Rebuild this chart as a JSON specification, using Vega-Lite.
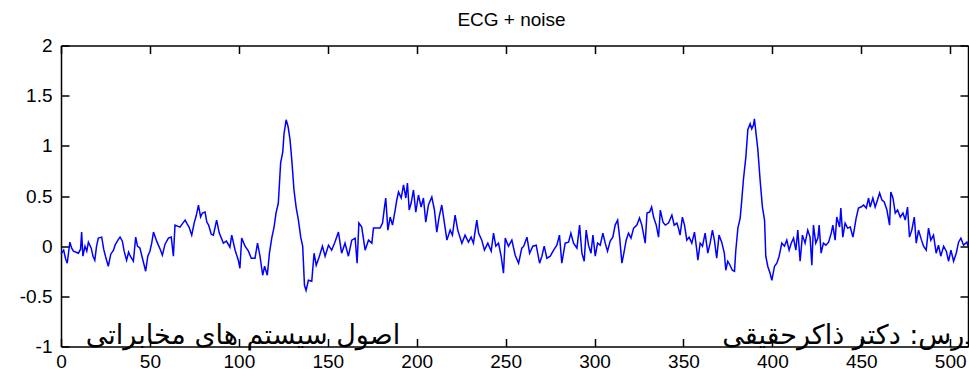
{
  "$schema": "https://vega.github.io/schema/vega-lite/v6.json",
  "autosize": {"type": "none"},
  "padding": {"left": 61, "top": 45.5, "right": 1, "bottom": 24.5},
  "width": 907,
  "height": 301,
  "background": "white",
  "title": {"text": "ECG + noise", "font": "Liberation Sans", "fontSize": 19, "fontWeight": "normal", "color": "black", "anchor": "middle", "baseline": "alphabetic", "offset": -8, "dx": -3},
  "config": {
    "view": {"stroke": null},
    "axis": {"domainColor": "black", "domainWidth": 1.5, "tickColor": "black", "tickWidth": 1.5, "tickSize": -8, "grid": false, "title": null, "labelColor": "black", "labelFont": "Liberation Sans", "labelFontSize": 19}
  },
  "datasets": {
    "ecg": [
      {"n": 0, "v": -0.08}, {"n": 1.5, "v": -0.04}, {"n": 2.5, "v": -0.12}, {"n": 3.5, "v": -0.17}, {"n": 5, "v": 0.04}, {"n": 6, "v": -0.02}, {"n": 7, "v": -0.05}, {"n": 8.5, "v": -0.06}, {"n": 9.8, "v": -0.07}, {"n": 11, "v": -0.03}, {"n": 11.6, "v": 0.14}, {"n": 12.3, "v": -0.1}, {"n": 13.5, "v": 0.0}, {"n": 14.5, "v": -0.05}, {"n": 15.4, "v": 0.04}, {"n": 17, "v": -0.02}, {"n": 18, "v": -0.1}, {"n": 19, "v": -0.14}, {"n": 20, "v": 0.0}, {"n": 21, "v": 0.08}, {"n": 22.9, "v": 0.09}, {"n": 24, "v": -0.03}, {"n": 25, "v": -0.1}, {"n": 26.6, "v": -0.2}, {"n": 28, "v": -0.08}, {"n": 29.5, "v": -0.04}, {"n": 30.4, "v": 0.01}, {"n": 32, "v": 0.06}, {"n": 33.2, "v": 0.09}, {"n": 34.5, "v": 0.05}, {"n": 35.5, "v": -0.05}, {"n": 36.9, "v": -0.14}, {"n": 38, "v": -0.06}, {"n": 39, "v": -0.1}, {"n": 40.7, "v": -0.15}, {"n": 42, "v": 0.09}, {"n": 43, "v": 0.0}, {"n": 44.4, "v": -0.02}, {"n": 45.5, "v": -0.1}, {"n": 46.5, "v": -0.17}, {"n": 47.6, "v": -0.25}, {"n": 48.8, "v": -0.1}, {"n": 50, "v": -0.05}, {"n": 51, "v": 0.03}, {"n": 52, "v": 0.14}, {"n": 53.8, "v": 0.05}, {"n": 55, "v": 0.0}, {"n": 56, "v": -0.04}, {"n": 57, "v": -0.09}, {"n": 58.5, "v": 0.02}, {"n": 60.4, "v": 0.08}, {"n": 62, "v": 0.09}, {"n": 63.2, "v": -0.1}, {"n": 64.1, "v": 0.21}, {"n": 65.5, "v": 0.2}, {"n": 66.9, "v": 0.19}, {"n": 68.5, "v": 0.23}, {"n": 69.8, "v": 0.26}, {"n": 71, "v": 0.22}, {"n": 72, "v": 0.19}, {"n": 73.5, "v": 0.11}, {"n": 75, "v": 0.24}, {"n": 76, "v": 0.3}, {"n": 77.3, "v": 0.41}, {"n": 78.5, "v": 0.29}, {"n": 79.5, "v": 0.33}, {"n": 81, "v": 0.34}, {"n": 82, "v": 0.24}, {"n": 83, "v": 0.21}, {"n": 84.5, "v": 0.12}, {"n": 85.7, "v": 0.11}, {"n": 87.5, "v": 0.26}, {"n": 89, "v": 0.13}, {"n": 91.3, "v": 0.03}, {"n": 93, "v": 0.05}, {"n": 95, "v": -0.01}, {"n": 96, "v": 0.11}, {"n": 97.9, "v": -0.04}, {"n": 99.7, "v": -0.14}, {"n": 100.6, "v": -0.22}, {"n": 101.6, "v": 0.08}, {"n": 103.5, "v": 0.0}, {"n": 105.4, "v": -0.05}, {"n": 107, "v": -0.12}, {"n": 109.1, "v": -0.12}, {"n": 110.5, "v": 0.03}, {"n": 111.9, "v": -0.1}, {"n": 113.4, "v": -0.29}, {"n": 114.5, "v": -0.2}, {"n": 116, "v": -0.29}, {"n": 117.2, "v": -0.07}, {"n": 118.5, "v": 0.08}, {"n": 119.8, "v": 0.19}, {"n": 120.9, "v": 0.33}, {"n": 122.2, "v": 0.43}, {"n": 123.5, "v": 0.83}, {"n": 124.7, "v": 0.94}, {"n": 125.4, "v": 1.12}, {"n": 126.6, "v": 1.26}, {"n": 127.7, "v": 1.19}, {"n": 128.8, "v": 1.06}, {"n": 129.9, "v": 0.83}, {"n": 131, "v": 0.56}, {"n": 132.2, "v": 0.39}, {"n": 133.5, "v": 0.26}, {"n": 134.8, "v": 0.09}, {"n": 135.9, "v": 0.0}, {"n": 136.9, "v": -0.39}, {"n": 137.8, "v": -0.44}, {"n": 139.1, "v": -0.34}, {"n": 141, "v": -0.35}, {"n": 142.3, "v": -0.07}, {"n": 143.5, "v": -0.19}, {"n": 145.3, "v": -0.1}, {"n": 147, "v": 0.0}, {"n": 148.5, "v": -0.1}, {"n": 150.4, "v": 0.01}, {"n": 152.2, "v": -0.04}, {"n": 154, "v": 0.04}, {"n": 156, "v": 0.14}, {"n": 157.8, "v": -0.07}, {"n": 159.7, "v": 0.03}, {"n": 161.6, "v": -0.1}, {"n": 163.5, "v": 0.06}, {"n": 165.4, "v": 0.08}, {"n": 166.5, "v": -0.17}, {"n": 167.5, "v": 0.23}, {"n": 169.1, "v": 0.19}, {"n": 171, "v": -0.04}, {"n": 172.9, "v": 0.06}, {"n": 174.8, "v": 0.03}, {"n": 175.7, "v": 0.18}, {"n": 177.6, "v": 0.18}, {"n": 179.4, "v": 0.18}, {"n": 180.8, "v": 0.23}, {"n": 181.9, "v": 0.39}, {"n": 182.6, "v": 0.48}, {"n": 183.8, "v": 0.16}, {"n": 185.1, "v": 0.29}, {"n": 186.4, "v": 0.21}, {"n": 187.9, "v": 0.36}, {"n": 188.8, "v": 0.46}, {"n": 189.8, "v": 0.54}, {"n": 191.3, "v": 0.48}, {"n": 192.6, "v": 0.61}, {"n": 193.9, "v": 0.48}, {"n": 194.8, "v": 0.63}, {"n": 195.8, "v": 0.36}, {"n": 196.9, "v": 0.43}, {"n": 198.2, "v": 0.56}, {"n": 199.5, "v": 0.34}, {"n": 201, "v": 0.51}, {"n": 202.5, "v": 0.39}, {"n": 203.8, "v": 0.48}, {"n": 205.1, "v": 0.24}, {"n": 206.6, "v": 0.41}, {"n": 208.5, "v": 0.49}, {"n": 210, "v": 0.36}, {"n": 211.3, "v": 0.14}, {"n": 212.6, "v": 0.29}, {"n": 214.1, "v": 0.41}, {"n": 215.6, "v": 0.23}, {"n": 217, "v": 0.06}, {"n": 218.8, "v": 0.16}, {"n": 220.1, "v": 0.11}, {"n": 221.6, "v": 0.31}, {"n": 223.1, "v": 0.16}, {"n": 225.4, "v": 0.03}, {"n": 227.2, "v": 0.11}, {"n": 229.1, "v": 0.04}, {"n": 230.6, "v": 0.09}, {"n": 231.9, "v": 0.03}, {"n": 233.8, "v": 0.26}, {"n": 234.8, "v": 0.13}, {"n": 236.6, "v": 0.06}, {"n": 238.1, "v": -0.04}, {"n": 240, "v": 0.03}, {"n": 241.9, "v": -0.05}, {"n": 243.2, "v": 0.13}, {"n": 244.5, "v": 0.0}, {"n": 246, "v": 0.03}, {"n": 247.5, "v": -0.1}, {"n": 248.8, "v": -0.27}, {"n": 249.8, "v": 0.08}, {"n": 251.6, "v": 0.0}, {"n": 253.5, "v": 0.06}, {"n": 255.4, "v": -0.09}, {"n": 257.3, "v": -0.17}, {"n": 259.1, "v": -0.02}, {"n": 260.2, "v": 0.0}, {"n": 262, "v": 0.09}, {"n": 263.5, "v": -0.07}, {"n": 265.3, "v": 0.0}, {"n": 267.2, "v": 0.01}, {"n": 269.1, "v": -0.17}, {"n": 270.4, "v": -0.1}, {"n": 271.7, "v": 0.0}, {"n": 273.2, "v": -0.12}, {"n": 275.1, "v": -0.1}, {"n": 277, "v": -0.04}, {"n": 278.8, "v": 0.01}, {"n": 280.3, "v": 0.11}, {"n": 281.6, "v": -0.17}, {"n": 283.5, "v": 0.03}, {"n": 285.4, "v": 0.04}, {"n": 286.7, "v": 0.13}, {"n": 288.2, "v": 0.03}, {"n": 290.1, "v": -0.02}, {"n": 291.6, "v": 0.21}, {"n": 292.9, "v": -0.07}, {"n": 294.2, "v": -0.15}, {"n": 295.3, "v": 0.16}, {"n": 296.6, "v": 0.01}, {"n": 298, "v": -0.07}, {"n": 299.1, "v": 0.11}, {"n": 300.4, "v": -0.1}, {"n": 301.7, "v": 0.03}, {"n": 303.2, "v": 0.01}, {"n": 304.7, "v": 0.13}, {"n": 306, "v": 0.03}, {"n": 307.3, "v": -0.05}, {"n": 308.8, "v": 0.05}, {"n": 310.3, "v": 0.09}, {"n": 311.6, "v": 0.21}, {"n": 313, "v": 0.26}, {"n": 314.1, "v": 0.09}, {"n": 315.4, "v": -0.17}, {"n": 316.7, "v": -0.05}, {"n": 317.8, "v": 0.06}, {"n": 319.1, "v": 0.13}, {"n": 320.5, "v": 0.08}, {"n": 322, "v": 0.18}, {"n": 323.8, "v": 0.21}, {"n": 325.3, "v": 0.28}, {"n": 326.6, "v": 0.21}, {"n": 328.5, "v": 0.03}, {"n": 329.5, "v": 0.33}, {"n": 331, "v": 0.34}, {"n": 332.1, "v": 0.39}, {"n": 333.2, "v": 0.29}, {"n": 334.7, "v": 0.21}, {"n": 336, "v": 0.09}, {"n": 337, "v": 0.36}, {"n": 338.5, "v": 0.24}, {"n": 339.8, "v": 0.21}, {"n": 341.6, "v": 0.23}, {"n": 343.5, "v": 0.31}, {"n": 344.8, "v": 0.21}, {"n": 346.3, "v": 0.23}, {"n": 347.2, "v": 0.18}, {"n": 348.1, "v": 0.11}, {"n": 349.4, "v": 0.29}, {"n": 350.6, "v": 0.21}, {"n": 351.9, "v": 0.06}, {"n": 353.2, "v": 0.09}, {"n": 354.7, "v": 0.03}, {"n": 356.2, "v": 0.14}, {"n": 357.5, "v": -0.04}, {"n": 358.1, "v": -0.14}, {"n": 359.4, "v": 0.03}, {"n": 360.7, "v": 0.0}, {"n": 362.2, "v": 0.13}, {"n": 363.7, "v": -0.07}, {"n": 365, "v": 0.03}, {"n": 366.3, "v": 0.16}, {"n": 367.4, "v": 0.06}, {"n": 368.7, "v": -0.12}, {"n": 370, "v": 0.11}, {"n": 371.5, "v": 0.04}, {"n": 373, "v": -0.07}, {"n": 373.8, "v": -0.24}, {"n": 374.9, "v": -0.15}, {"n": 376.2, "v": -0.19}, {"n": 377.5, "v": -0.24}, {"n": 378.7, "v": -0.25}, {"n": 379.4, "v": -0.05}, {"n": 380.6, "v": 0.18}, {"n": 381.9, "v": 0.28}, {"n": 382.8, "v": 0.46}, {"n": 383.7, "v": 0.66}, {"n": 385.1, "v": 0.89}, {"n": 386.2, "v": 1.16}, {"n": 387.5, "v": 1.22}, {"n": 388.4, "v": 1.17}, {"n": 389.4, "v": 1.21}, {"n": 389.9, "v": 1.27}, {"n": 390.9, "v": 1.11}, {"n": 391.8, "v": 0.97}, {"n": 393.1, "v": 0.66}, {"n": 394.4, "v": 0.39}, {"n": 395.6, "v": 0.26}, {"n": 396.3, "v": -0.1}, {"n": 397.4, "v": -0.2}, {"n": 398.7, "v": -0.27}, {"n": 399.7, "v": -0.34}, {"n": 401.2, "v": -0.2}, {"n": 402.5, "v": -0.17}, {"n": 403.8, "v": -0.1}, {"n": 405.3, "v": 0.03}, {"n": 406.8, "v": 0.0}, {"n": 408.1, "v": 0.06}, {"n": 409.4, "v": -0.04}, {"n": 410.6, "v": 0.03}, {"n": 411.9, "v": 0.08}, {"n": 413.2, "v": -0.04}, {"n": 414.3, "v": 0.16}, {"n": 415.6, "v": -0.15}, {"n": 416.9, "v": 0.11}, {"n": 418.4, "v": 0.03}, {"n": 419.9, "v": 0.16}, {"n": 421.2, "v": 0.09}, {"n": 422.2, "v": -0.19}, {"n": 423.1, "v": 0.21}, {"n": 424.4, "v": 0.03}, {"n": 425.6, "v": 0.08}, {"n": 426.3, "v": 0.21}, {"n": 427.4, "v": -0.07}, {"n": 428.7, "v": 0.03}, {"n": 430.1, "v": 0.01}, {"n": 431.6, "v": 0.04}, {"n": 433.1, "v": 0.13}, {"n": 434, "v": 0.21}, {"n": 435.3, "v": 0.06}, {"n": 436.2, "v": 0.29}, {"n": 437.8, "v": 0.19}, {"n": 438.5, "v": 0.38}, {"n": 439.6, "v": 0.09}, {"n": 440.9, "v": 0.23}, {"n": 442.3, "v": 0.18}, {"n": 443.8, "v": 0.19}, {"n": 445.3, "v": 0.09}, {"n": 446, "v": 0.16}, {"n": 447.1, "v": 0.28}, {"n": 448.4, "v": 0.38}, {"n": 449.8, "v": 0.39}, {"n": 451.3, "v": 0.41}, {"n": 452.8, "v": 0.38}, {"n": 454.1, "v": 0.48}, {"n": 455, "v": 0.39}, {"n": 456.5, "v": 0.48}, {"n": 457.8, "v": 0.39}, {"n": 459.1, "v": 0.46}, {"n": 460.3, "v": 0.53}, {"n": 461.6, "v": 0.46}, {"n": 462.9, "v": 0.44}, {"n": 464.4, "v": 0.36}, {"n": 465.9, "v": 0.21}, {"n": 466.6, "v": 0.54}, {"n": 467.8, "v": 0.48}, {"n": 469.1, "v": 0.33}, {"n": 470.4, "v": 0.36}, {"n": 471.9, "v": 0.29}, {"n": 473.4, "v": 0.33}, {"n": 474.7, "v": 0.26}, {"n": 476, "v": 0.39}, {"n": 477.1, "v": 0.09}, {"n": 478.4, "v": 0.16}, {"n": 479.8, "v": 0.29}, {"n": 480.9, "v": 0.03}, {"n": 482.2, "v": 0.16}, {"n": 483.5, "v": 0.08}, {"n": 485, "v": 0.0}, {"n": 486.5, "v": -0.04}, {"n": 487.8, "v": 0.18}, {"n": 489.1, "v": 0.06}, {"n": 490.6, "v": 0.11}, {"n": 492.1, "v": -0.07}, {"n": 493.4, "v": 0.01}, {"n": 494.7, "v": -0.1}, {"n": 496.3, "v": 0.0}, {"n": 497.8, "v": -0.05}, {"n": 499.1, "v": -0.15}, {"n": 500.4, "v": -0.04}, {"n": 501.9, "v": -0.15}, {"n": 503.4, "v": -0.07}, {"n": 504.7, "v": 0.04}, {"n": 506, "v": 0.08}, {"n": 507.5, "v": 0.01}, {"n": 509.4, "v": 0.04}, {"n": 510, "v": 0.0}
    ],
    "notes": [
      {"n": 190.7, "v": -0.975, "label": "اصول سیستم های مخابراتی", "side": "left"},
      {"n": 371.8, "v": -0.975, "label": "مدرس: دکتر ذاکرحقیقی", "side": "right"}
    ]
  },
  "layer": [
    {
      "data": {"name": "ecg"},
      "mark": {"type": "line", "color": "#0000ff", "strokeWidth": 1.5},
      "encoding": {
        "x": {"field": "n", "type": "quantitative", "scale": {"domain": [0, 510], "nice": false, "zero": false}, "axis": {"orient": "bottom", "values": [0, 50, 100, 150, 200, 250, 300, 350, 400, 450, 500], "labelPadding": 14, "labelFlush": false}},
        "y": {"field": "v", "type": "quantitative", "scale": {"domain": [-1, 2], "nice": false, "zero": false}, "axis": {"orient": "left", "values": [-1, -0.5, 0, 0.5, 1, 1.5, 2], "labelExpr": "'' + datum.value", "labelPadding": 17, "labelFlush": false}}
      }
    },
    {
      "data": {"name": "notes"},
      "transform": [{"filter": "datum.side == 'left'"}],
      "mark": {"type": "text", "font": "DejaVu Sans", "fontSize": 27, "align": "right", "baseline": "alphabetic", "color": "black"},
      "encoding": {
        "x": {"field": "n", "type": "quantitative", "axis": {"orient": "top", "values": [0, 50, 100, 150, 200, 250, 300, 350, 400, 450, 500], "labels": false}},
        "y": {"field": "v", "type": "quantitative", "axis": {"orient": "right", "values": [-1, -0.5, 0, 0.5, 1, 1.5, 2], "labels": false}},
        "text": {"field": "label"}
      }
    },
    {
      "data": {"name": "notes"},
      "transform": [{"filter": "datum.side == 'right'"}],
      "mark": {"type": "text", "font": "DejaVu Sans", "fontSize": 27, "align": "left", "baseline": "alphabetic", "color": "black"},
      "encoding": {
        "x": {"field": "n", "type": "quantitative", "axis": null},
        "y": {"field": "v", "type": "quantitative", "axis": null},
        "text": {"field": "label"}
      }
    }
  ],
  "resolve": {"axis": {"x": "independent", "y": "independent"}}
}
